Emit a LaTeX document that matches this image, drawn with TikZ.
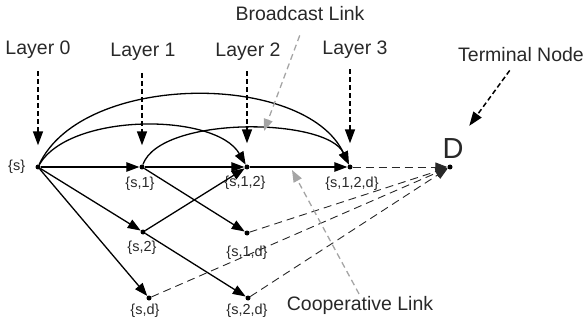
\documentclass[tikz,border=0pt]{standalone}
\usepackage{fontspec}
\setmainfont{Liberation Sans}
\usepackage{tikz}
\usetikzlibrary{positioning,arrows.meta,calc}
\definecolor{LinkGray}{RGB}{165,165,165}
\definecolor{InkText}{RGB}{40,40,40}

\begin{document}
\begin{tikzpicture}[
    x=1pt, y=-1pt,
    node distance=6pt,
    dot/.style={circle, fill=black, inner sep=0pt, minimum size=5pt},
    setlbl/.style={inner sep=0pt, font=\fontsize{14.5}{16}\selectfont, text=InkText},
    layer/.style={inner sep=0pt, font=\fontsize{19.5}{21}\selectfont, text=InkText},
    link/.style={line width=1.3pt, -{Triangle[length=13pt,width=9.5pt]}},
    coop/.style={line width=0.9pt, InkText, dash pattern=on 8pt off 5pt, -{Triangle[length=12pt,width=9pt]}},
    pointer/.style={line width=1.5pt, dash pattern=on 5pt off 3pt, -{Triangle[length=14pt,width=10pt]}},
    hint/.style={LinkGray, line width=1.3pt, dash pattern=on 6pt off 4pt, -{Triangle[length=12pt,width=9pt]}}
]
\useasboundingbox (0,0) rectangle (584,326);

\node[dot] (s) at (38,167) {};
\node[dot] (s1) at (142,167) {};
\node[dot] (s12) at (247,167) {};
\node[dot] (s12d) at (350,167) {};
\node[dot] (d) at (450,167) {};
\node[dot] (s2) at (143,232) {};
\node[dot] (s1d) at (247,233) {};
\node[dot] (sd) at (149,298) {};
\node[dot] (s2d) at (248,298) {};

\node[setlbl, left=10pt of s] (s-l) {\{s\}};
\node[setlbl, below=7pt of s1, xshift=-2pt] (s1-l) {\{s,1\}};
\node[setlbl, below=6pt of s12, xshift=-2pt] (s12-l) {\{s,1,2\}};
\node[setlbl, below=7pt of s12d, xshift=2pt] (s12d-l) {\{s,1,2,d\}};
\node[setlbl, below=6pt of s2, xshift=-1pt] (s2-l) {\{s,2\}};
\node[setlbl, below=10pt of s1d] (s1d-l) {\{s,1,d\}};
\node[setlbl, below=3pt of sd, xshift=-4pt] (sd-l) {\{s,d\}};
\node[setlbl, below=3pt of s2d, xshift=-1pt] (s2d-l) {\{s,2,d\}};
\node[inner sep=0pt, font=\fontsize{29}{30}\selectfont, text=InkText, above=6pt of d, xshift=3pt] (dname) {D};

\node[layer] (l0) at (38,50) {Layer 0};
\node[layer] (l1) at (143,52) {Layer 1};
\node[layer] (l2) at (248,52) {Layer 2};
\node[layer] (l3) at (355,50) {Layer 3};
\node[layer] (tn) at (521,55) {Terminal Node};
\node[layer] (bl) at (300,14) {Broadcast Link};
\node[layer] (cl) at (360,305) {Cooperative Link};
\coordinate (bc) at (264,131);
\coordinate (cc) at (292,170);

\draw[link] (s) to[out=65, in=115, looseness=0.85] (s12d);
\draw[link] (s) to[out=60, in=120, looseness=0.75] (s12);
\draw[link] (s1) to[out=70, in=115, looseness=0.65] (s12d);
\draw[link] (s) -- (s1);
\draw[link] (s1) -- (s12);
\draw[link] (s12) -- (s12d);
\draw[link] (s) -- (s2);
\draw[link] (s) -- (sd);
\draw[link] (s2) -- (s12);
\draw[link] (s1) -- (s1d);
\draw[link] (s2) -- (s2d);
\draw[coop] (s12d) -- (d);
\draw[coop] (s1d) -- (d);
\draw[coop] (s2d) -- (d);
\draw[coop] (sd) -- (d);

\draw[pointer, shorten <=12pt, shorten >=19pt] (l0.south -| s) -- (s);
\draw[pointer, shorten <=12pt, shorten >=19pt] (l1.south -| s1) -- (s1);
\draw[pointer, shorten <=10pt, shorten >=21pt] (l2.south -| s12) -- (s12);
\draw[pointer, shorten <=10pt, shorten >=21pt] (l3.south -| s12d) -- (s12d);
\draw[pointer, shorten <=10pt, shorten >=15pt] (tn) -- (dname);
\draw[hint, shorten <=15pt] ([xshift=5pt]bl.south) -- (bc);
\draw[hint, shorten <=2pt] (cl.north) -- (cc);
\end{tikzpicture}
\end{document}
